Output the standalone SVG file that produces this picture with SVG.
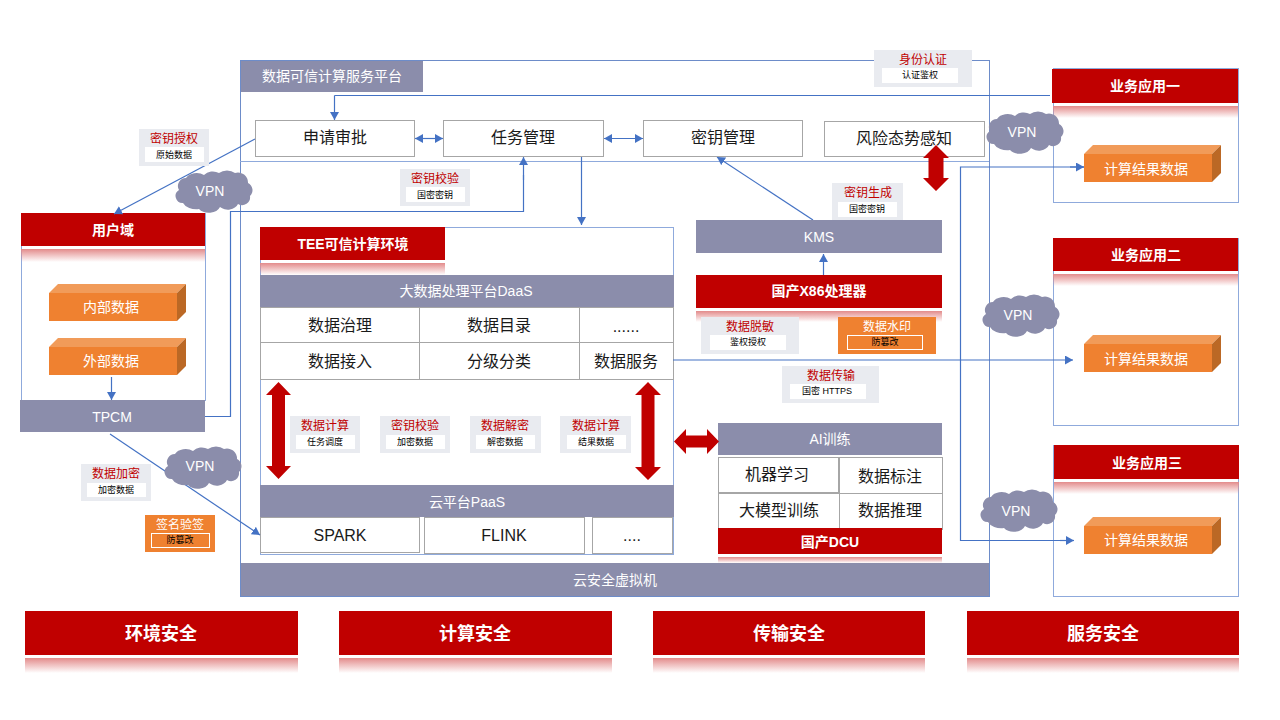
<svg xmlns="http://www.w3.org/2000/svg" width="1280" height="720" viewBox="0 0 1280 720">
<style>
text{font-family:"Liberation Sans","Noto Sans CJK SC",sans-serif;text-anchor:middle;dominant-baseline:central}
.w14{font-size:14px;fill:#fff}
.b14{font-size:14px;fill:#fff;font-weight:700}
.b18{font-size:18px;fill:#fff;font-weight:700}
.t16{font-size:16px;fill:#1a1a1a}
.r12{font-size:12px;fill:#c00000}
.o12{font-size:12px;fill:#fff}
.k9{font-size:9px;fill:#000}
.band{fill:#8b8dab}
.red{fill:#c00000}
.ref{fill:url(#refl)}
.cell{fill:#fff;stroke:#a6a6a6;stroke-width:1}
.frame{fill:#fff;stroke:#8faadc;stroke-width:1}
.lbl{fill:#e9ebf0}
.in{fill:#fff}
.org{fill:#ef8130}
.ino{fill:none;stroke:#fff;stroke-width:1}
.c{fill:none;stroke:#4472c4;stroke-width:1.2}
.ah{marker-end:url(#arr)}
</style>
<defs>
<linearGradient id="refl" x1="0" y1="0" x2="0" y2="1"><stop offset="0" stop-color="#e38b8b"/><stop offset="1" stop-color="#e38b8b" stop-opacity="0"/></linearGradient>
<marker id="arr" markerUnits="userSpaceOnUse" markerWidth="10" markerHeight="10" refX="8" refY="4.5" orient="auto"><path d="M0,0L8,4.5L0,9Z" fill="#4472c4"/></marker>
<marker id="arrs" markerUnits="userSpaceOnUse" markerWidth="10" markerHeight="10" refX="0" refY="4.5" orient="auto"><path d="M8,0L0,4.5L8,9Z" fill="#4472c4"/></marker>
<path id="cloud" fill="#8b8dab" d="M7,33A7,7 0 0 1 3,20A8,8 0 0 1 10,8A12,9 0 0 1 28,5A11,9 0 0 1 43,3A11,8 0 0 1 59,3A10,10 0 0 1 72,13A8,8 0 0 1 74,26A8,8 0 0 1 62,34A11,9 0 0 1 44,37A12,9 0 0 1 23,39A14,9 0 0 1 7,33Z"/>
<g id="box"><polygon points="0,9 9,0 137,0 128,9" fill="#f19b59"/><polygon points="128,9 137,0 137,28 128,37" fill="#bb6825"/><rect y="9" width="128" height="28" fill="#ef8130"/></g>
</defs>
<rect width="1280" height="720" fill="#fff"/>

<g id="platform">
<rect x="240.5" y="60.5" width="749" height="536" fill="#fff" stroke="#6d8cc9" stroke-width="1"/>
<line x1="240" y1="161.5" x2="989" y2="161.5" stroke="#8faadc"/>
<rect class="band" x="241" y="61" width="182" height="31"/>
<text class="w14" x="332" y="76">数据可信计算服务平台</text>
<rect class="band" x="241" y="563" width="748" height="33"/>
<text class="w14" x="615" y="580">云安全虚拟机</text>
</g>

<g id="tee">
<rect class="frame" x="260.5" y="227.5" width="413" height="327"/>
<rect class="red" x="260" y="227" width="185" height="33"/>
<rect class="ref" x="260" y="263" width="185" height="12"/>
<text class="b14" x="353" y="244">TEE可信计算环境</text>
</g>
<g id="daas">
<rect class="band" x="260" y="275" width="414" height="32"/>
<text class="w14" x="466" y="291">大数据处理平台DaaS</text>
<rect class="cell" x="260.5" y="307.5" width="159" height="35"/><rect class="cell" x="419.5" y="307.5" width="160" height="35"/><rect class="cell" x="579.5" y="307.5" width="94" height="35"/>
<rect class="cell" x="260.5" y="342.5" width="159" height="37"/><rect class="cell" x="419.5" y="342.5" width="160" height="37"/><rect class="cell" x="579.5" y="342.5" width="94" height="37"/>
<text class="t16" x="340" y="325">数据治理</text><text class="t16" x="499" y="325">数据目录</text><text class="t16" x="626" y="326">......</text>
<text class="t16" x="340" y="361">数据接入</text><text class="t16" x="499" y="361">分级分类</text><text class="t16" x="626" y="361">数据服务</text>
</g>
<g id="paas">
<rect class="band" x="260" y="485" width="414" height="32"/>
<text class="w14" x="467" y="502">云平台PaaS</text>
<rect class="cell" x="260.5" y="517.5" width="159" height="35"/><rect class="cell" x="424.5" y="517.5" width="160" height="36"/><rect class="cell" x="592.5" y="517.5" width="80" height="36"/>
<text class="t16" x="340" y="535">SPARK</text><text class="t16" x="504" y="535">FLINK</text><text class="t16" x="632" y="535">....</text>
</g>

<g id="user-domain">
<rect class="frame" x="21.5" y="213.5" width="184" height="187"/>
<rect class="red" x="21" y="213" width="184" height="33"/>
<rect class="ref" x="21" y="249" width="184" height="13"/>
<text class="b14" x="113" y="230">用户域</text>
</g>
<g id="app1">
<rect class="frame" x="1053.5" y="68.5" width="185" height="134"/>
<rect class="red" x="1052" y="69" width="186" height="34"/>
<rect class="ref" x="1053" y="106" width="185" height="12"/>
<text class="b14" x="1145" y="86">业务应用一</text>
</g>
<g id="app2">
<rect class="frame" x="1053.5" y="238.5" width="185" height="187"/>
<rect class="red" x="1053" y="238" width="185" height="33"/>
<rect class="ref" x="1053" y="274" width="185" height="12"/>
<text class="b14" x="1146" y="255">业务应用二</text>
</g>
<g id="app3">
<rect class="frame" x="1053.5" y="445.5" width="185" height="151"/>
<rect class="red" x="1054" y="445" width="185" height="34"/>
<rect class="ref" x="1054" y="482" width="185" height="12"/>
<text class="b14" x="1147" y="463">业务应用三</text>
</g>

<g id="connectors">
<path class="c ah" d="M334.5,95.5V120"/>
<path class="c" d="M334.5,95.5H1050"/>
<path class="c ah" d="M255,139L114,214"/>
<path class="c" d="M205,416.5H230.5V211.5H523.5V175"/>
<path class="c ah" d="M523.5,180V157"/>
<path class="c ah" d="M581.5,157V225"/>
<path class="c" style="marker-start:url(#arrs);marker-end:url(#arr)" d="M415,138.5H443"/>
<path class="c" style="marker-start:url(#arrs);marker-end:url(#arr)" d="M604,138.5H643"/>
<path class="c ah" d="M813,220L717,157"/>
<path class="c ah" d="M823.5,275V254"/>
<path class="c ah" d="M111.5,377V400"/>
<path class="c ah" d="M110,434L260,535"/>
<path class="c ah" d="M673,360H1073"/>
<path class="c" d="M1084,167H960.5V540.5H1074"/>
<path class="c ah" d="M1070,167H1084"/>
<path class="c ah" d="M1060,540.5H1074"/>
</g>

<g id="apply"><rect class="cell" x="255.5" y="120.5" width="159" height="36"/><text class="t16" x="335" y="137">申请审批</text></g>
<g id="task"><rect class="cell" x="443.5" y="120.5" width="160" height="36"/><text class="t16" x="523" y="137">任务管理</text></g>
<g id="key"><rect class="cell" x="643.5" y="120.5" width="159" height="36"/><text class="t16" x="723" y="137">密钥管理</text></g>
<g id="risk"><rect class="cell" x="824.5" y="121.5" width="160" height="35"/><text class="t16" x="904" y="138">风险态势感知</text></g>

<g id="kms"><rect class="band" x="696" y="220" width="246" height="33"/><text class="w14" x="819" y="237">KMS</text></g>
<g id="x86"><rect class="red" x="696" y="275" width="246" height="33"/><rect class="ref" x="696" y="311" width="246" height="11"/><text class="b14" x="819" y="291">国产X86处理器</text></g>
<g id="tpcm"><rect class="band" x="20" y="400" width="185" height="32"/><text class="w14" x="112" y="417">TPCM</text></g>

<g id="ai">
<rect class="band" x="718" y="423" width="224" height="32"/>
<text class="w14" x="830" y="439">AI训练</text>
<rect class="cell" x="718.5" y="457.5" width="120" height="35"/><rect class="cell" x="839.5" y="457.5" width="103" height="36"/>
<rect class="cell" x="718.5" y="493.5" width="121" height="36"/><rect class="cell" x="839.5" y="493.5" width="103" height="36"/>
<text class="t16" x="777" y="474">机器学习</text><text class="t16" x="890" y="476">数据标注</text>
<text class="t16" x="779" y="510">大模型训练</text><text class="t16" x="890" y="510">数据推理</text>
<rect class="red" x="718" y="528" width="224" height="26"/>
<rect class="ref" x="718" y="557" width="224" height="6"/>
<text class="b14" x="830" y="542">国产DCU</text>
</g>

<g id="box-internal"><use href="#box" x="49" y="284"/><text class="w14" x="111" y="307">内部数据</text></g>
<g id="box-external"><use href="#box" x="49" y="338"/><text class="w14" x="111" y="361">外部数据</text></g>
<g id="result1"><use href="#box" x="1084" y="145"/><text class="w14" x="1146" y="169">计算结果数据</text></g>
<g id="result2"><use href="#box" x="1084" y="335"/><text class="w14" x="1146" y="359">计算结果数据</text></g>
<g id="result3"><use href="#box" x="1084" y="517"/><text class="w14" x="1146" y="540">计算结果数据</text></g>

<g id="label-auth"><rect class="lbl" x="874" y="50" width="98" height="37"/><rect class="in" x="882" y="68" width="76" height="15"/><text class="r12" x="923" y="60">身份认证</text><text class="k9" x="920" y="75">认证鉴权</text></g>
<g id="label-grant"><rect class="lbl" x="139" y="129" width="70" height="37"/><rect class="in" x="145" y="147" width="59" height="15"/><text class="r12" x="174" y="139">密钥授权</text><text class="k9" x="174" y="155">原始数据</text></g>
<g id="label-check"><rect class="lbl" x="400" y="169" width="70" height="37"/><rect class="in" x="406" y="187" width="59" height="15"/><text class="r12" x="435" y="179">密钥校验</text><text class="k9" x="435" y="195">国密密钥</text></g>
<g id="label-gen"><rect class="lbl" x="832" y="183" width="71" height="37"/><rect class="in" x="838" y="202" width="59" height="15"/><text class="r12" x="868" y="193">密钥生成</text><text class="k9" x="867" y="209">国密密钥</text></g>
<g id="label-mask"><rect class="lbl" x="701" y="317" width="98" height="37"/><rect class="in" x="710" y="335" width="76" height="15"/><text class="r12" x="750" y="327">数据脱敏</text><text class="k9" x="748" y="342">鉴权授权</text></g>
<g id="label-mark"><rect class="org" x="838" y="317" width="98" height="37"/><rect class="ino" x="847.5" y="335.5" width="75" height="14"/><text class="o12" x="887" y="327">数据水印</text><text class="k9" x="885" y="342">防篡改</text></g>
<g id="label-trans"><rect class="lbl" x="782" y="366" width="97" height="37"/><rect class="in" x="790" y="384" width="76" height="15"/><text class="r12" x="831" y="376">数据传输</text><text class="k9" x="827" y="391">国密 HTTPS</text></g>
<g id="label-enc"><rect class="lbl" x="81" y="464" width="70" height="37"/><rect class="in" x="87" y="483" width="59" height="14"/><text class="r12" x="116" y="474">数据加密</text><text class="k9" x="116" y="490">加密数据</text></g>
<g id="label-sign"><rect class="org" x="145" y="515" width="70" height="37"/><rect class="ino" x="151.5" y="533.5" width="58" height="14"/><text class="o12" x="180" y="525">签名验签</text><text class="k9" x="180" y="540">防篡改</text></g>
<g id="label-c1"><rect class="lbl" x="290" y="416" width="70" height="37"/><rect class="in" x="296" y="435" width="59" height="14"/><text class="r12" x="325" y="426">数据计算</text><text class="k9" x="325" y="442">任务调度</text></g>
<g id="label-c2"><rect class="lbl" x="380" y="416" width="70" height="37"/><rect class="in" x="386" y="435" width="59" height="14"/><text class="r12" x="415" y="426">密钥校验</text><text class="k9" x="415" y="442">加密数据</text></g>
<g id="label-c3"><rect class="lbl" x="470" y="416" width="71" height="37"/><rect class="in" x="476" y="435" width="59" height="14"/><text class="r12" x="505" y="426">数据解密</text><text class="k9" x="505" y="442">解密数据</text></g>
<g id="label-c4"><rect class="lbl" x="560" y="416" width="71" height="37"/><rect class="in" x="567" y="435" width="59" height="14"/><text class="r12" x="596" y="426">数据计算</text><text class="k9" x="596" y="442">结果数据</text></g>

<g id="vpn1"><use href="#cloud" x="176" y="170"/><text class="w14" x="210" y="191">VPN</text></g>
<g id="vpn2"><use href="#cloud" x="987" y="111"/><text class="w14" x="1022" y="132">VPN</text></g>
<g id="vpn3"><use href="#cloud" x="983" y="294"/><text class="w14" x="1018" y="315">VPN</text></g>
<g id="vpn4"><use href="#cloud" x="981" y="489"/><text class="w14" x="1016" y="511">VPN</text></g>
<g id="vpn5"><use href="#cloud" x="165" y="446"/><text class="w14" x="200" y="466">VPN</text></g>

<g id="dbl-arrows" class="red">
<polygon points="278.5,382 291,395 285,395 285,466 291,466 278.5,479 266,466 272,466 272,395 266,395"/>
<polygon points="648,382 661,395 654.5,395 654.5,467 661,467 648,480 635,467 641.5,467 641.5,395 635,395"/>
<polygon points="936,145 949,158 943.5,158 943.5,178 949,178 936,191 923,178 928.5,178 928.5,158 923,158"/>
<polygon points="674,441.5 686,429 686,435.5 707,435.5 707,429 719,441.5 707,454 707,447.5 686,447.5 686,454"/>
</g>

<g id="sec-env"><rect class="red" x="25" y="611" width="273" height="44"/><rect class="ref" x="25" y="658" width="273" height="15"/><text class="b18" x="161" y="634">环境安全</text></g>
<g id="sec-comp"><rect class="red" x="339" y="611" width="273" height="44"/><rect class="ref" x="339" y="658" width="273" height="15"/><text class="b18" x="475" y="634">计算安全</text></g>
<g id="sec-trans"><rect class="red" x="653" y="611" width="272" height="44"/><rect class="ref" x="653" y="658" width="272" height="15"/><text class="b18" x="789" y="634">传输安全</text></g>
<g id="sec-svc"><rect class="red" x="967" y="611" width="272" height="44"/><rect class="ref" x="967" y="658" width="272" height="15"/><text class="b18" x="1103" y="634">服务安全</text></g>
</svg>
